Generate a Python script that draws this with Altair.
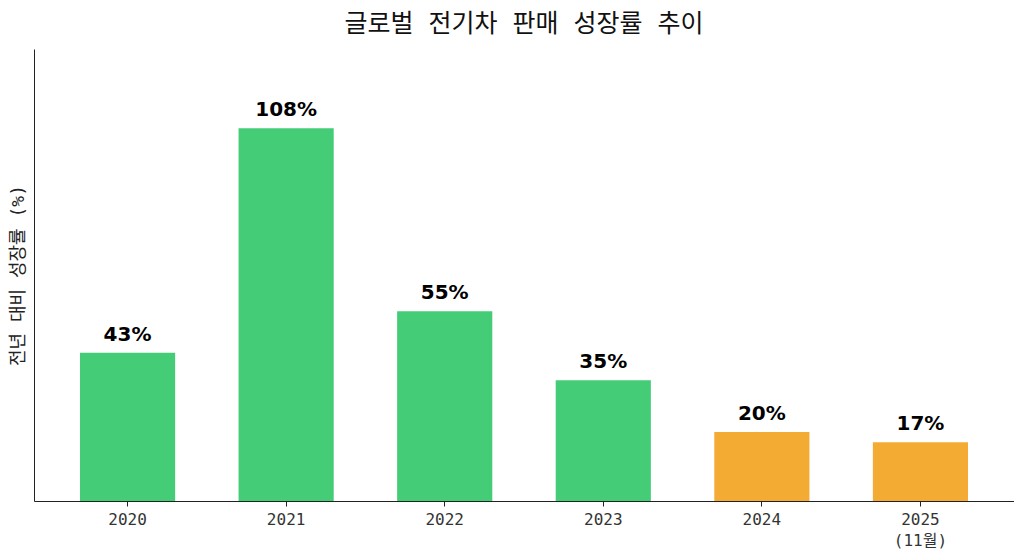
import altair as alt
import pandas as pd

years = ["2020", "2021", "2022", "2023", "2024", "2025 (11월)"]
growth = [43, 108, 55, 35, 20, 17]
labels = ["43%", "108%", "55%", "35%", "20%", "17%"]
kind = ["past", "past", "past", "past", "recent", "recent"]

df = pd.DataFrame({"year": years, "growth": growth, "label": labels, "kind": kind})

FONT = "'DejaVu Sans Mono', 'Noto Sans CJK KR', monospace"

x = alt.X("year:N", sort=years, title=None,
          scale=alt.Scale(paddingInner=0.4, paddingOuter=0.29),
          axis=alt.Axis(labelAngle=0, labelExpr="split(datum.label, ' ')",
                        labelFont=FONT, labelFontSize=16, labelColor="#333",
                        tickColor="#222", tickSize=5, domainColor="#222",
                        labelPadding=5, labelLineHeight=21))
y = alt.Y("growth:Q", title="전년 대비 성장률 (%)",
          scale=alt.Scale(domain=[0, 131], nice=False),
          axis=alt.Axis(labels=False, ticks=False, grid=False, domainColor="#222",
                        titleFont=FONT, titleFontSize=18, titleFontWeight="normal",
                        titleColor="#222", titlePadding=7))

bars = alt.Chart(df).mark_bar().encode(
    x=x, y=y,
    color=alt.Color("kind:N", scale=alt.Scale(domain=["past", "recent"],
                                              range=["#44cc77", "#f4ab33"]), legend=None),
)
text = alt.Chart(df).mark_text(baseline="bottom", dy=-8, fontSize=20, fontWeight="bold",
                               font="DejaVu Sans", color="black").encode(
    x=alt.X("year:N", sort=years), y="growth:Q", text="label:N")

chart = (bars + text).properties(
    width=980, height=452,
    title=alt.TitleParams("글로벌 전기차 판매 성장률 추이", font=FONT, fontSize=25,
                          fontWeight="normal", color="#111", offset=12, anchor="middle"),
    padding={"left": 1, "top": 4, "right": 0, "bottom": 5},
).configure_view(stroke=None).configure_axis(grid=False)

chart.save("out.html", embed_options={"renderer": "svg", "actions": False})
